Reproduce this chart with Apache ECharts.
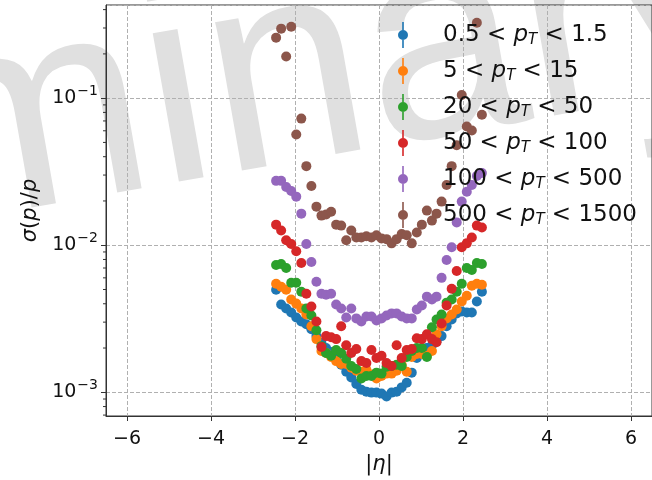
<!DOCTYPE html>
<html>
<head>
<meta charset="utf-8">
<script src="https://cdn.jsdelivr.net/npm/echarts@6/dist/echarts.min.js"></script>
<style>
  html, body { margin: 0; padding: 0; background: #fff; }
  #chart { width: 652px; height: 480px; }
</style>
</head>
<body>
<div id="chart"></div>
<script>
// eta bin centres
var eta = [-2.45, -2.33, -2.21, -2.09, -1.97, -1.85, -1.73, -1.61, -1.49, -1.37, -1.26, -1.14, -1.02, -0.90,
    -0.78, -0.66, -0.54, -0.42, -0.30, -0.18, -0.06, 0.06, 0.18, 0.30, 0.42, 0.54, 0.66, 0.78,
    0.90, 1.02, 1.14, 1.26, 1.37, 1.49, 1.61, 1.73, 1.85, 1.97, 2.09, 2.21, 2.33, 2.45];

// sigma(p)/p for each pT bin
var res05 = [0.00498, 0.00395, 0.00371, 0.00349, 0.00323, 0.00303, 0.00290, 0.00268, 0.00241, 0.00216, 0.00200, 0.00188,
    0.00171, 0.00154, 0.00138, 0.00126, 0.00114, 0.00104, 0.00101, 0.000995, 0.000995, 0.00098, 0.000936, 0.000995,
    0.00101, 0.00108, 0.00116, 0.00136, 0.00171, 0.00185, 0.00200, 0.00209, 0.00223, 0.00241, 0.00281, 0.00313,
    0.00344, 0.00354, 0.00349, 0.00349, 0.00414, 0.00483];
var res5 = [0.00547, 0.00522, 0.00498, 0.00427, 0.00401, 0.00371, 0.00338, 0.00281, 0.00230, 0.00191, 0.00185, 0.00174,
    0.00163, 0.00156, 0.00156, 0.00147, 0.00140, 0.00138, 0.00142, 0.00132, 0.00124, 0.00129, 0.00134, 0.00134,
    0.00140, 0.00154, 0.00138, 0.00174, 0.00182, 0.00182, 0.00177, 0.00191, 0.00248, 0.00281, 0.00318, 0.00338,
    0.00366, 0.00414, 0.00454, 0.00530, 0.00547, 0.00538];
var res20 = [0.00734, 0.00745, 0.00700, 0.00555, 0.00555, 0.00483, 0.00371, 0.00333, 0.00264, 0.00206, 0.00185, 0.00177,
    0.00194, 0.00185, 0.00169, 0.00151, 0.00144, 0.00124, 0.00129, 0.00129, 0.00136, 0.00134, 0.00149, 0.00151,
    0.00154, 0.00151, 0.00174, 0.00191, 0.00200, 0.00200, 0.00174, 0.00277, 0.00313, 0.00338, 0.00407, 0.00427,
    0.00483, 0.00547, 0.00700, 0.00679, 0.00757, 0.00745];
var res50 = [0.0138, 0.0126, 0.0108, 0.0102, 0.00911, 0.00757, 0.00468, 0.00383, 0.00303, 0.00203, 0.00241, 0.00237,
    0.00230, 0.00281, 0.00209, 0.00185, 0.00197, 0.00163, 0.00158, 0.00194, 0.00171, 0.00177, 0.00158, 0.00151,
    0.00209, 0.00171, 0.00194, 0.00197, 0.00233, 0.00230, 0.00248, 0.00230, 0.00219, 0.00294, 0.00389, 0.00506,
    0.00668, 0.0097, 0.0103, 0.0113, 0.0136, 0.0132];
var res100 = [0.0274, 0.0274, 0.0249, 0.0234, 0.0214, 0.0164, 0.0102, 0.00769, 0.00564, 0.00468, 0.00461, 0.00468,
    0.00395, 0.00371, 0.00323, 0.00371, 0.00318, 0.00303, 0.00328, 0.00328, 0.00308, 0.00318, 0.00333, 0.00344,
    0.00344, 0.00328, 0.00318, 0.00318, 0.00366, 0.00389, 0.00447, 0.00427, 0.00447, 0.0060, 0.00793, 0.0097,
    0.0143, 0.0198, 0.0231, 0.0257, 0.0296, 0.0310];
var res500 = [0.258, 0.297, 0.192, 0.306, 0.0566, 0.0726, 0.0345, 0.0253, 0.0183, 0.0159, 0.0162, 0.0169,
    0.0138, 0.0136, 0.0108, 0.0126, 0.0113, 0.0113, 0.0115, 0.0113, 0.0117, 0.0111, 0.0110, 0.0103,
    0.0110, 0.0119, 0.0117, 0.0103, 0.0122, 0.0138, 0.0172, 0.0147, 0.0164, 0.0198, 0.0257, 0.0345,
    0.0478, 0.105, 0.0641, 0.0603, 0.326, 0.0772];

var ptLow = ['0.5', '5', '20', '50', '100', '500'];
var ptHigh = ['1.5', '15', '50', '100', '500', '1500'];
var colors = ['#1f77b4', '#ff7f0e', '#2ca02c', '#d62728', '#9467bd', '#8c564b'];
var allRes = [res05, res5, res20, res50, res100, res500];

// minor ticks of the log axis
var minorTicks = [0.0007, 0.0008, 0.0009, 0.002, 0.003, 0.004, 0.005, 0.006, 0.007, 0.008, 0.009,
    0.02, 0.03, 0.04, 0.05, 0.06, 0.07, 0.08, 0.09, 0.2, 0.3, 0.4];

(function() {
    var myChart = echarts.init(document.getElementById('chart'));
    var font = 'DejaVu Sans';
    var errIcon = 'path://M4.2,0 L5.8,0 L5.8,26 L4.2,26 Z M0,13 A5,5 0 1 1 10,13 A5,5 0 1 1 0,13 Z';

    var names = ptLow.map(function(lo, i) { return lo + ' < pT < ' + ptHigh[i]; });

    var series = allRes.map(function(arr, i) {
        return {
            name: names[i],
            type: 'scatter',
            symbol: 'circle',
            symbolSize: 10,
            itemStyle: { color: colors[i], opacity: 1 },
            data: arr.map(function(v, j) { return [eta[j], v]; }),
            z: 3
        };
    });
    // minor ticks on the y axis
    series.push({
        type: 'custom',
        silent: true,
        clip: false,
        z: 5,
        data: minorTicks.map(function(v) { return [-6.5, v]; }),
        renderItem: function(params, api) {
            var p = api.coord([api.value(0), api.value(1)]);
            return {
                type: 'line',
                shape: { x1: p[0] - 3, y1: p[1], x2: p[0], y2: p[1] },
                style: { stroke: '#333', lineWidth: 1 }
            };
        }
    });

    var option = {
        animation: false,
        backgroundColor: '#fff',
        graphic: [{
            type: 'text',
            x: 53,
            y: 124,
            rotation: 10 * Math.PI / 180,
            z: -10,
            silent: true,
            style: {
                text: 'Preliminary',
                font: '285px "Liberation Sans", Arial, sans-serif',
                fill: '#e0e0e0',
                align: 'center',
                verticalAlign: 'middle'
            }
        }],
        grid: {
            left: 106,
            right: -13,
            top: 5,
            bottom: 60,
            show: true,
            borderColor: '#333',
            borderWidth: 1
        },
        legend: {
            orient: 'vertical',
            left: 393,
            top: 17,
            itemWidth: 10,
            itemHeight: 26,
            itemGap: 10,
            icon: errIcon,
            data: names,
            formatter: function(name) {
                var i = names.indexOf(name);
                return '{g|}' + ptLow[i] + ' < {i|p}{s|T} < ' + ptHigh[i];
            },
            textStyle: {
                fontFamily: font,
                fontSize: 23,
                color: '#111',
                lineHeight: 26,
                rich: {
                    g: { width: 30 },
                    i: { fontFamily: font, fontSize: 23, fontStyle: 'italic', lineHeight: 26 },
                    s: { fontFamily: font, fontSize: 15, fontStyle: 'italic', lineHeight: 15, verticalAlign: 'bottom' }
                }
            }
        },
        xAxis: {
            type: 'value',
            min: -6.5,
            max: 6.5,
            splitNumber: 6,
            name: '|{i|η}|',
            nameLocation: 'middle',
            nameGap: 38,
            nameTextStyle: {
                fontFamily: font,
                fontSize: 21,
                color: '#111',
                rich: { i: { fontFamily: font, fontSize: 21, fontStyle: 'italic' } }
            },
            axisLine: { onZero: false, lineStyle: { color: '#333' } },
            axisTick: { length: 5, lineStyle: { color: '#333' } },
            axisLabel: {
                showMinLabel: false,
                showMaxLabel: false,
                margin: 14,
                fontFamily: font,
                fontSize: 19,
                color: '#111',
                formatter: function(v) { return v < 0 ? '\u2212' + (-v) : String(v); }
            },
            splitLine: { show: true, lineStyle: { color: '#b0b0b0', type: [4, 2], width: 1 } }
        },
        yAxis: {
            type: 'log',
            logBase: 10,
            min: 0.00069,
            max: 0.43,
            name: '{i|σ}({i|p})/{i|p}',
            nameLocation: 'middle',
            nameGap: 62,
            nameTextStyle: {
                fontFamily: font,
                fontSize: 21,
                color: '#111',
                rich: { i: { fontFamily: font, fontSize: 21, fontStyle: 'italic' } }
            },
            axisLine: { show: true, onZero: false, lineStyle: { color: '#333' } },
            axisTick: { show: true, length: 5, lineStyle: { color: '#333' } },
            axisLabel: {
                showMinLabel: false,
                showMaxLabel: false,
                margin: 8,
                fontFamily: font,
                fontSize: 19,
                color: '#111',
                formatter: function(v) {
                    var e = Math.round(Math.log(v) / Math.LN10);
                    return '{b|10}{u|\u2212' + (-e) + '}';
                },
                rich: {
                    b: { fontFamily: font, fontSize: 19, lineHeight: 28, color: '#111' },
                    u: { fontFamily: font, fontSize: 14, lineHeight: 14, verticalAlign: 'top', color: '#111', padding: [0, 0, 0, 1] }
                }
            },
            splitLine: { show: true, lineStyle: { color: '#b0b0b0', type: [4, 2], width: 1 } }
        },
        series: series
    };
    myChart.setOption(option);
})();
</script>
</body>
</html>
